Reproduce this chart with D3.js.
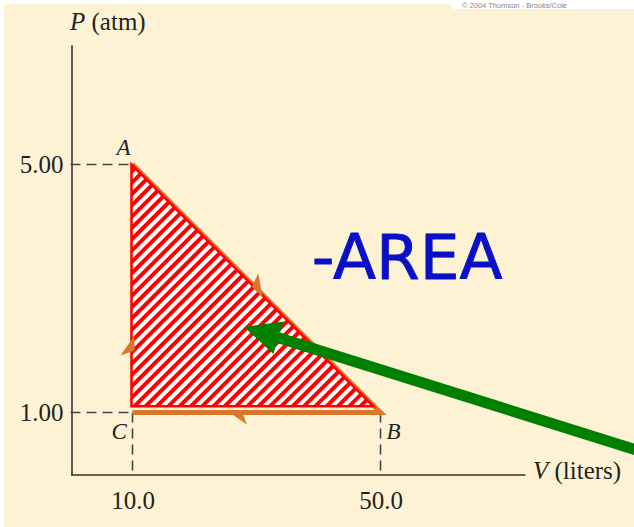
<!DOCTYPE html>
<html>
<head>
<meta charset="utf-8">
<script src="https://cdn.jsdelivr.net/npm/d3@7"></script>
<style>
  html, body { margin: 0; padding: 0; background: #ffffff; }
  svg { display: block; }
</style>
</head>
<body>
<svg id="chart" width="634" height="527"></svg>
<script>
// Cycle states on the P–V diagram
const stateNames = ["A", "B", "C"];
const volumes = [10.0, 50.0, 10.0];      // liters
const pressures = [5.00, 1.00, 1.00];    // atm

// Axis ticks
const volumeTicks = [10.0, 50.0];
const pressureTicks = [1.00, 5.00];
const volumeMax = 73.3;
const pressureMax = 6.93;

// Annotation: arrow pointing into the enclosed region, and its label
const pointerTip = [28.0, 2.38];
const pointerTail = [95.0, 0.28];
const areaLabel = "-AREA";
const areaLabelAt = [38.9, 3.15];

const W = 634, H = 527;
const svg = d3.select("#chart");

const cream = "#fdf3d4";
const orange = "#d9782a";

// paper
svg.append("rect").attr("width", W).attr("height", H).attr("fill", "#ffffff");
svg.append("rect").attr("x", 4).attr("y", 4).attr("width", W - 4).attr("height", H - 4).attr("fill", cream);
svg.append("rect").attr("x", 452).attr("y", 0).attr("width", W - 452).attr("height", 9).attr("fill", "#ffffff");
svg.append("text").attr("x", 462).attr("y", 7.5)
  .attr("font-family", "Liberation Sans, Arial, sans-serif").attr("font-size", 7.5)
  .attr("fill", "#888").text("© 2004 Thomson - Brooks/Cole");

const x = d3.scaleLinear().domain([0, volumeMax]).range([70.5, 70.5 + volumeMax * 6.2]);
const y = d3.scaleLinear().domain([0, pressureMax]).range([474.5, 474.5 - pressureMax * 62]);

const serif = "Liberation Serif, Times New Roman, serif";

// axes
const yAxis = d3.axisLeft(y).tickValues(pressureTicks).tickFormat(d3.format(".2f"))
  .tickSize(0).tickPadding(8);
const xAxis = d3.axisBottom(x).tickValues(volumeTicks).tickFormat(d3.format(".1f"))
  .tickSize(0).tickPadding(17);

const gy = svg.append("g").attr("transform", `translate(${x(0) + 1},0)`).call(yAxis);
const gx = svg.append("g").attr("transform", `translate(0,${y(0)})`).call(xAxis);
[gx, gy].forEach(g => {
  g.select(".domain").attr("stroke", "#333").attr("stroke-width", 1.6);
  g.selectAll("text").attr("font-family", serif).attr("font-size", 25).attr("fill", "#222");
});

// axis titles
const pTitle = svg.append("text").attr("x", 70).attr("y", 30)
  .attr("font-family", serif).attr("font-size", 25).attr("fill", "#222");
pTitle.append("tspan").attr("font-style", "italic").text("P");
pTitle.append("tspan").text(" (atm)");
const vTitle = svg.append("text").attr("x", 533).attr("y", 479)
  .attr("font-family", serif).attr("font-size", 25).attr("fill", "#222");
vTitle.append("tspan").attr("font-style", "italic").text("V");
vTitle.append("tspan").text(" (liters)");

// dashed guide lines from the axes to the states
const states = stateNames.map((n, i) => ({ name: n, v: volumes[i], p: pressures[i] }));
const dash = "10,6";
const guides = svg.append("g").attr("stroke", "#444").attr("stroke-width", 1.6).attr("stroke-dasharray", dash);
states.filter(s => s.v === d3.min(volumes)).forEach(s => {
  guides.append("line").attr("x1", x(0)).attr("x2", x(s.v)).attr("y1", y(s.p)).attr("y2", y(s.p));
});
states.filter(s => s.p === d3.min(pressures)).forEach(s => {
  guides.append("line").attr("x1", x(s.v)).attr("x2", x(s.v)).attr("y1", y(s.p)).attr("y2", y(0));
});

// hatch pattern for the enclosed area
const defs = svg.append("defs");
const period = 8.2;
const pat = defs.append("pattern").attr("id", "hatch").attr("patternUnits", "userSpaceOnUse")
  .attr("width", period).attr("height", period).attr("patternTransform", "rotate(-45)");
pat.append("rect").attr("width", period).attr("height", period).attr("fill", "#ffffff");
pat.append("rect").attr("width", period).attr("height", period * 0.5).attr("fill", "#ff0000");

const pt = s => [x(s.v), y(s.p)];
const [A, B, C] = states;

// process path A -> B -> C
const line = d3.line();
svg.append("path").attr("d", line([pt(A), pt(B), pt(C)]))
  .attr("fill", "none").attr("stroke", orange).attr("stroke-width", 5).attr("stroke-linejoin", "miter");

// enclosed area, drawn just inside the process path
const [ax, ay] = pt(A);
const k = 0.975;
svg.append("path").attr("d", line([pt(A), pt(B), pt(C)]) + "Z")
  .attr("transform", `translate(${ax - 1},${ay}) scale(${k}) translate(${-ax},${-ay})`)
  .attr("fill", "url(#hatch)").attr("stroke", "#ff0000").attr("stroke-width", 2.6)
  .attr("stroke-linejoin", "miter");

// direction arrows (half heads on the outer side of each leg)
const cx = d3.mean(states, s => x(s.v)), cy = d3.mean(states, s => y(s.p));
function halfArrow(s0, s1, t) {
  const [x0, y0] = pt(s0), [x1, y1] = pt(s1);
  const len = Math.hypot(x1 - x0, y1 - y0);
  const ux = (x1 - x0) / len, uy = (y1 - y0) / len;
  let nx = -uy, ny = ux;
  const tx = x0 + (x1 - x0) * t, ty = y0 + (y1 - y0) * t;
  if ((tx - cx) * nx + (ty - cy) * ny < 0) { nx = -nx; ny = -ny; }
  const L = 20, Wd = 12;
  const bx = tx - ux * L, by = ty - uy * L;
  const pts = [[tx - nx * 2, ty - ny * 2], [bx + nx * Wd, by + ny * Wd], [bx + ux * 5 - nx * 2, by + uy * 5 - ny * 2]];
  svg.append("path").attr("d", line(pts) + "Z").attr("fill", orange);
}
halfArrow(A, B, 0.53);
halfArrow(B, C, 0.62);
halfArrow(C, A, 0.31);

// state labels
const labelOffset = { A: [-16, -10], B: [6, 26], C: [-21, 26] };
svg.append("g").selectAll("text").data(states).join("text")
  .attr("x", d => x(d.v) + labelOffset[d.name][0])
  .attr("y", d => y(d.p) + labelOffset[d.name][1])
  .attr("font-family", serif).attr("font-style", "italic").attr("font-size", 23)
  .attr("fill", "#222").text(d => d.name);

// "-AREA" label
svg.append("text").attr("x", x(areaLabelAt[0])).attr("y", y(areaLabelAt[1]))
  .attr("font-family", "DejaVu Sans, sans-serif").attr("font-size", 63)
  .attr("fill", "#0a10c8").attr("stroke", "#0a10c8").attr("stroke-width", 0.8)
  .attr("stroke-linejoin", "round")
  .attr("textLength", 191).attr("lengthAdjust", "spacingAndGlyphs")
  .text(areaLabel);

// green pointer arrow
{
  const tx = x(pointerTip[0]), ty = y(pointerTip[1]);
  const ex = x(pointerTail[0]), ey = y(pointerTail[1]);
  const len = Math.hypot(ex - tx, ey - ty);
  const ux = (ex - tx) / len, uy = (ey - ty) / len;
  const nx = -uy, ny = ux;
  const head = 36, hw = 17, sw = 5.5;
  const bx = tx + ux * head, by = ty + uy * head;
  const poly = [
    [tx, ty],
    [bx + nx * hw, by + ny * hw],
    [bx + nx * sw, by + ny * sw],
    [ex + nx * sw, ey + ny * sw],
    [ex - nx * sw, ey - ny * sw],
    [bx - nx * sw, by - ny * sw],
    [bx - nx * hw, by - ny * hw]
  ];
  svg.append("path").attr("d", line(poly) + "Z").attr("fill", "#008000");
}
</script>
</body>
</html>
